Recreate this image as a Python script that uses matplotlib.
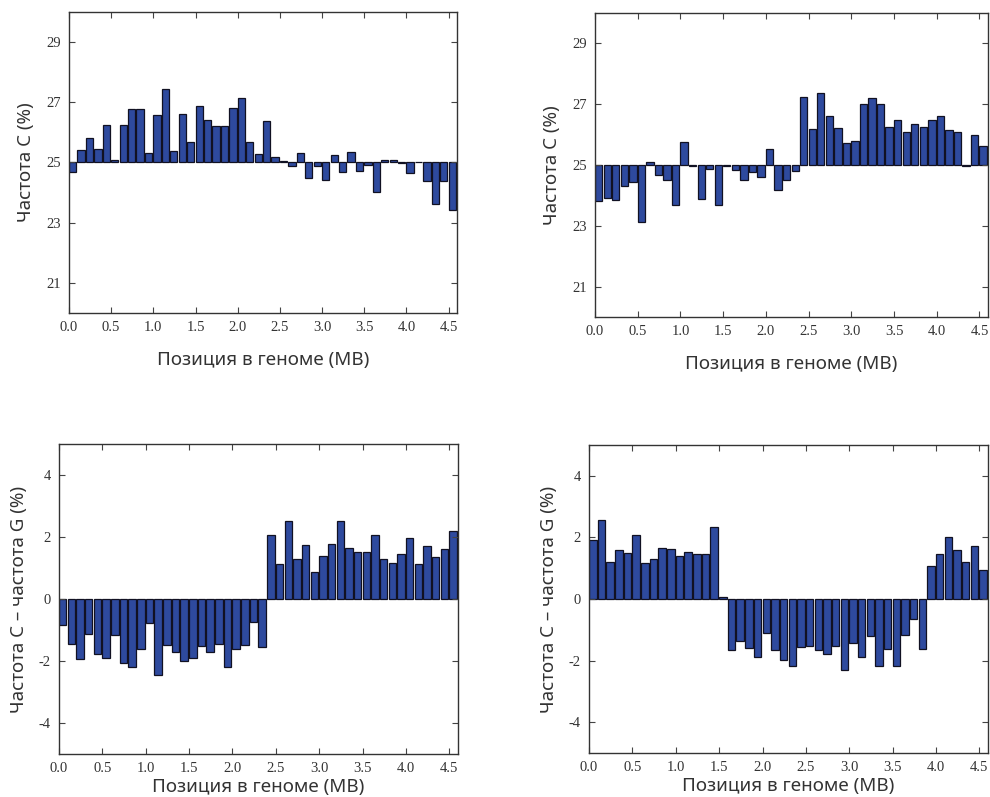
import numpy as np
import matplotlib
matplotlib.use("Agg")
import matplotlib.pyplot as plt

plt.rcParams['axes.unicode_minus'] = False

# позиции окон (MB), шаг 0.1
positions = np.arange(46) * 0.1

# частота C (%), верхний левый
freq_c_1 = [24.67, 25.41, 25.82, 25.45, 26.23, 25.08, 26.26, 26.76, 26.76, 25.33,
            26.58, 27.44, 25.39, 26.60, 25.69, 26.88, 26.41, 26.22, 26.22, 26.80,
            27.13, 25.67, 25.28, 26.37, 25.17, 25.06, 24.88, 25.32, 24.48, 24.88,
            24.41, 25.24, 24.67, 25.36, 24.72, 24.93, 24.03, 25.07, 25.07, 24.98,
            24.65, 25.01, 24.38, 23.63, 24.38, 23.42]

# частота C (%), верхний правый
freq_c_2 = [23.83, 23.93, 23.85, 24.30, 24.43, 23.14, 25.09, 24.67, 24.52, 23.68,
            25.76, 24.98, 23.88, 24.88, 23.68, 24.98, 24.85, 24.50, 24.76, 24.62,
            25.52, 24.17, 24.50, 24.80, 27.25, 26.19, 27.38, 26.60, 26.21, 25.73,
            25.79, 27.00, 27.20, 27.00, 26.25, 26.47, 26.08, 26.34, 26.24, 26.49,
            26.60, 26.15, 26.08, 24.97, 25.99, 25.61]

# C - G (%), нижний левый
skew_1 = [-0.83, -1.46, -1.94, -1.13, -1.78, -1.91, -1.17, -2.08, -2.21, -1.62,
          -0.77, -2.45, -1.49, -1.71, -2.00, -1.90, -1.52, -1.71, -1.44, -2.18,
          -1.61, -1.48, -0.75, -1.54, 2.07, 1.14, 2.52, 1.29, 1.73, 0.87,
          1.37, 1.77, 2.53, 1.64, 1.51, 1.52, 2.05, 1.29, 1.16, 1.46,
          1.96, 1.14, 1.70, 1.34, 1.62, 2.20]

# C - G (%), нижний правый
skew_2 = [1.91, 2.55, 1.20, 1.59, 1.51, 2.08, 1.17, 1.31, 1.65, 1.62,
          1.40, 1.53, 1.46, 1.46, 2.34, 0.08, -1.67, -1.36, -1.60, -1.87,
          -1.11, -1.65, -1.98, -2.16, -1.57, -1.54, -1.67, -1.79, -1.53, -2.29,
          -1.44, -1.88, -1.20, -2.16, -1.63, -2.18, -1.16, -0.66, -1.61, 1.07,
          1.46, 2.02, 1.59, 1.21, 1.73, 0.93]

xticks = [0.0, 0.5, 1.0, 1.5, 2.0, 2.5, 3.0, 3.5, 4.0, 4.5]
xlabel = 'Позиция в геноме (MB)'

bar_color = '#2e4a9e'
text_color = '#333333'
label_font = ['Noto Sans', 'DejaVu Sans']
tick_font = 'Liberation Serif'


def draw_panel(ax, values, base, ylim, yticks, ylabel):
    heights = [v - base for v in values]
    ax.bar(positions, heights, width=0.086, bottom=base, align='edge',
           color=bar_color, edgecolor='#111122', linewidth=0.9)
    ax.set_xlim(0, 4.6)
    ax.set_ylim(*ylim)
    ax.set_xticks(xticks)
    ax.set_xticklabels(['%.1f' % t for t in xticks])
    ax.set_yticks(yticks)
    ax.tick_params(direction='in', length=4, width=0.8, top=True, right=True,
                   colors='#444444', labelcolor=text_color, labelsize=10.5, pad=6)
    for lab in ax.get_xticklabels() + ax.get_yticklabels():
        lab.set_family(tick_font)
    for s in ax.spines.values():
        s.set_color('#333333')
        s.set_linewidth(1.0)
    ax.set_xlabel(xlabel, fontsize=13.5, family=label_font, color=text_color, labelpad=12)
    ax.set_ylabel(ylabel, fontsize=13.5, family=label_font, color=text_color, labelpad=8)


fig = plt.figure(figsize=(9.9, 7.97), dpi=100)

ax1 = fig.add_axes([0.0697, 0.6073, 0.392, 0.3777])
ax2 = fig.add_axes([0.601, 0.6023, 0.397, 0.3814])
ax3 = fig.add_axes([0.0596, 0.054, 0.403, 0.389])
ax4 = fig.add_axes([0.595, 0.0552, 0.403, 0.3864])

draw_panel(ax1, freq_c_1, 25, (20, 30), [21, 23, 25, 27, 29], 'Частота C (%)')
draw_panel(ax2, freq_c_2, 25, (20, 30), [21, 23, 25, 27, 29], 'Частота C (%)')
draw_panel(ax3, skew_1, 0, (-5, 5), [-4, -2, 0, 2, 4], 'Частота C – частота G (%)')
draw_panel(ax4, skew_2, 0, (-5, 5), [-4, -2, 0, 2, 4], 'Частота C – частота G (%)')

ax3.xaxis.labelpad = 2
ax4.xaxis.labelpad = 2

fig.savefig('out.png', dpi=100)
